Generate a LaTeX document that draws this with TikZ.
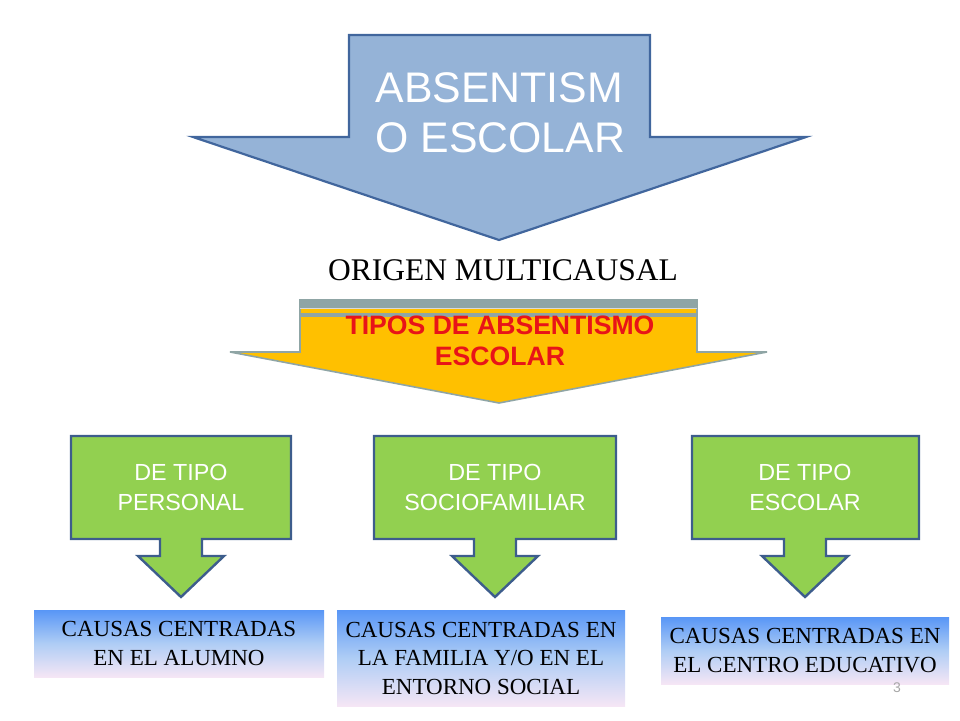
\documentclass[tikz,border=0pt]{standalone}
\usepackage{fontspec}
\setmainfont{Liberation Serif}
\setsansfont{Liberation Sans}
\usetikzlibrary{positioning}
\definecolor{absblue}{RGB}{149,179,215}
\definecolor{absborder}{RGB}{65,102,157}
\definecolor{tipoyellow}{RGB}{255,192,0}
\definecolor{tipogray}{RGB}{143,165,165}
\definecolor{tipored}{RGB}{232,20,24}
\definecolor{tipogreen}{RGB}{146,208,80}
\definecolor{greenborder}{RGB}{61,93,140}
\definecolor{causatop}{RGB}{88,150,246}
\definecolor{causamid}{RGB}{175,205,245}
\definecolor{causabot}{RGB}{245,230,245}

\begin{document}
\begin{tikzpicture}[x=1pt, y=-1pt,
    tipoarrow/.style={draw=greenborder, line width=2.4pt, fill=tipogreen, line join=miter},
    tipotext/.style={text=white, align=center, font=\sffamily\fontsize{23.3}{30}\selectfont},
    causabox/.style={top color=causatop, bottom color=causabot, middle color=causamid, inner sep=0pt, align=center, font=\fontsize{23}{28.5}\selectfont}]
    \useasboundingbox (0,0) rectangle (960,720);

    % big arrow on top
    \draw[draw=absborder, line width=2.2pt, fill=absblue] (349,35) -- (650,35) -- (650,137) -- (806,137) -- (499,240) -- (193,137) -- (349,137) -- cycle;
    \node[anchor=west, text=white, align=left, font=\sffamily\fontsize{42.8}{50}\selectfont] (absentismo) at (372,113) {ABSENTISM\\O ESCOLAR};

    \node[font=\fontsize{31.5}{34}\selectfont] (origen) at (503,270) {ORIGEN MULTICAUSAL};

    % yellow arrow with stripes
    \draw[draw=tipogray, line width=1.6pt, fill=tipoyellow] (300,300) -- (697,300) -- (697,352) -- (767,352) -- (499,403) -- (230,352) -- (300,352) -- cycle;
    \fill[tipogray] (300,300) rectangle (697,307.5);
    \draw[gray!30, line width=0.8pt] (300,308.3) -- (697,308.3);
    \fill[tipogray] (300,313) rectangle (697,316.5);
    \node[text=tipored, align=center, font=\sffamily\bfseries\fontsize{26.6}{31}\selectfont] (tipos) at (500,341) {TIPOS DE ABSENTISMO\\ESCOLAR};

    % green callouts
    \draw[tipoarrow] (71,436) -- (291,436) -- (291,539) -- (202,539) -- (202,556) -- (224,556) -- (181,597) -- (138,556) -- (160,556) -- (160,539) -- (71,539) -- cycle;
    \draw[tipoarrow] (374,436) -- (616,436) -- (616,539) -- (516,539) -- (516,556) -- (538,556) -- (495,597) -- (452,556) -- (474,556) -- (474,539) -- (374,539) -- cycle;
    \draw[tipoarrow] (692,436) -- (919,436) -- (919,539) -- (826,539) -- (826,556) -- (848,556) -- (805,597) -- (762,556) -- (784,556) -- (784,539) -- (692,539) -- cycle;
    \node[tipotext] (personal) at (181,487) {DE TIPO\\PERSONAL};
    \node[tipotext] (sociofamiliar) at (495,487) {DE TIPO\\SOCIOFAMILIAR};
    \node[tipotext] (escolar) at (805,487) {DE TIPO\\ESCOLAR};

    % causes
    \node[causabox, minimum width=290pt, minimum height=67pt] (alumno) at (179,643.5) {CAUSAS CENTRADAS\\EN EL ALUMNO};
    \node[causabox, minimum width=288pt, minimum height=96pt] (familia) at (481,658) {CAUSAS CENTRADAS EN\\LA FAMILIA Y/O EN EL\\ENTORNO SOCIAL};
    \node[causabox, minimum width=288pt, minimum height=67pt] (centro) at (805,650.5) {CAUSAS CENTRADAS EN\\EL CENTRO EDUCATIVO};

    \node[text=gray!70, font=\sffamily\fontsize{14}{16}\selectfont] (pagina) at (897,688) {3};
\end{tikzpicture}
\end{document}
